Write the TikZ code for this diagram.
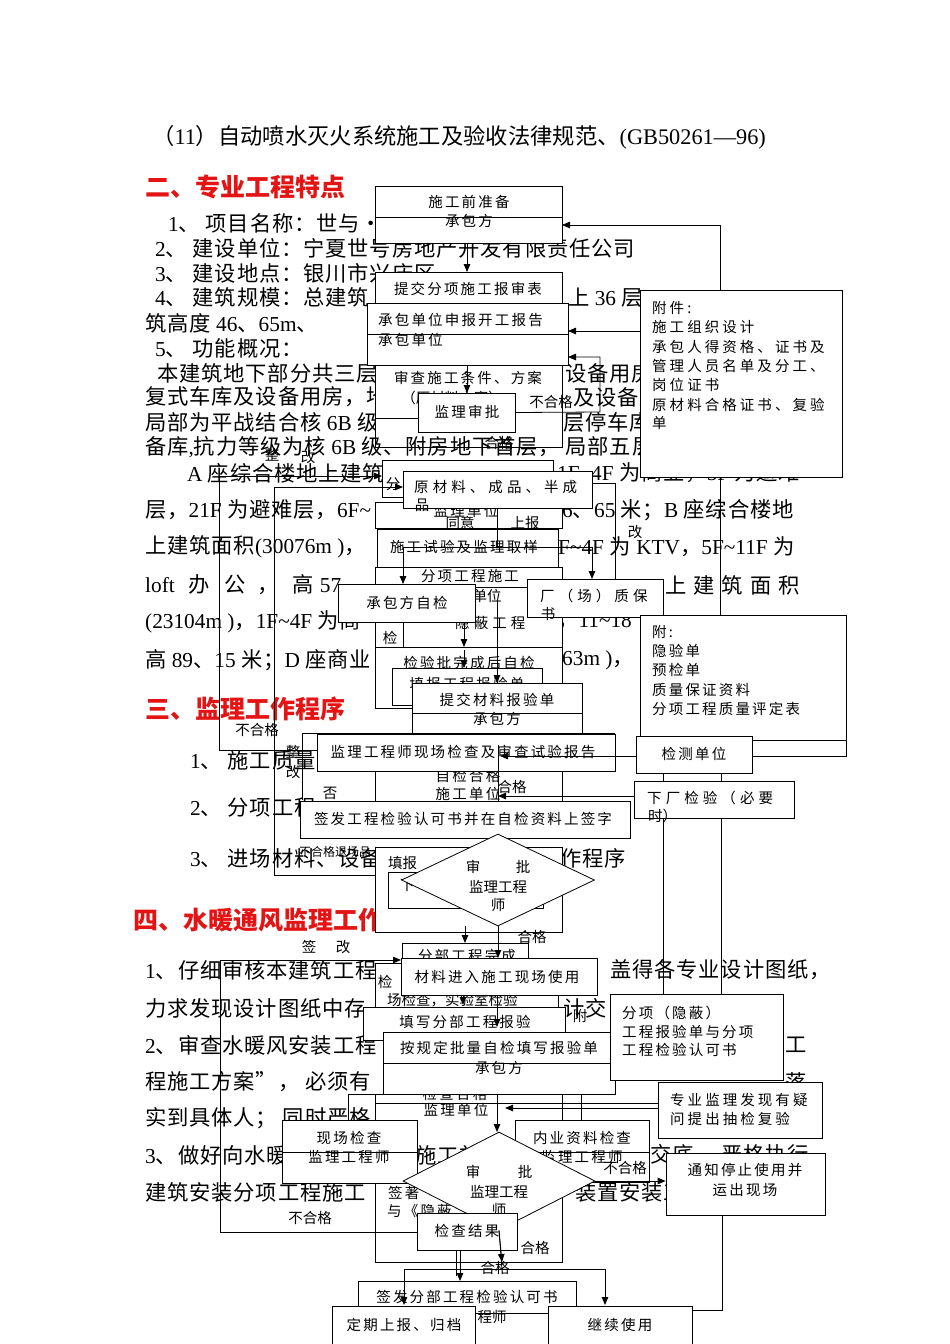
\documentclass[tikz,border=0pt]{standalone}
\usepackage{fontspec}
\setmainfont{Noto Sans CJK SC}
\newfontfamily\lat{Liberation Serif}
\newfontfamily\bxf{Noto Sans CJK SC}[LetterSpace=15]
\newfontfamily\bxm{Noto Sans CJK SC}[LetterSpace=21]
\newfontfamily\bxw{Noto Sans CJK SC}[LetterSpace=28]
\newfontfamily\bdy{Noto Sans CJK SC}[LetterSpace=4]
\usetikzlibrary{arrows.meta,fit,shapes.geometric}
\definecolor{hred}{RGB}{228,20,20}
\newcommand\tl{{\lat\char"7E}}
\begin{document}
\begin{tikzpicture}[x=1pt,y=-1pt,
 bt/.style={anchor=west,inner sep=0pt,font=\fontsize{21.3}{23}\selectfont\bdy},
 hd/.style={anchor=west,inner sep=0pt,text=hred,font=\fontsize{25}{27}\selectfont\bfseries},
 tt/.style={inner sep=0pt,font=\fontsize{14.5}{16}\selectfont\bxf},
 tm/.style={inner sep=0pt,anchor=west,font=\fontsize{14.5}{16}\selectfont\bxm},
 tw/.style={inner sep=0pt,font=\fontsize{14.5}{16}\selectfont\bxw},
 lb/.style={inner sep=0pt,font=\fontsize{14.5}{16}\selectfont},
 box/.style={draw,fill=white,line width=0.8pt,inner sep=0pt},
 ln/.style={line width=0.8pt},
 arr/.style={line width=0.8pt,-{Triangle[length=8pt,width=6.5pt]}}]
\useasboundingbox (0,0) rectangle (950,1344);
\fill[white] (0,0) rectangle (950,1344);

% ---------- body text ----------
\node[anchor=west,inner sep=0pt,font=\fontsize{22.3}{24}\selectfont] (t0) at (152,137) {（{\lat 11}）自动喷水灭火系统施工及验收法律规范、{\lat (GB50261—96)}};
\node[hd] (h1) at (145,187) {二、专业工程特点};
\node[bt] (t1) at (168,223) {{\lat 1}、\ 项目名称：世与·};
\node[bt] (t2) at (155,248) {{\lat 2}、\ 建设单位：宁夏世号房地产开发有限责任公司};
\node[bt] (t3) at (155,273) {{\lat 3}、\ 建设地点：银川市兴庆区};
\node[bt] (t4) at (155,297) {{\lat 4}、\ 建筑规模：总建筑};
\node[bt] (t4b) at (568,298) {上{\lat\ 36\ }层、};
\node[bt] (t5) at (145,323) {筑高度{\lat\ 46}、{\lat 65m}、};
\node[bt] (t6) at (155,348) {{\lat 5}、\ 功能概况：};
\node[bt] (t7) at (157,373) {本建筑地下部分共三层};
\node[bt] (t7b) at (565,373) {设备用房};
\node[bt] (t8) at (145,397) {复式车库及设备用房，地};
\node[bt] (t8b) at (573,397) {及设备用};
\node[bt] (t9) at (145,422) {局部为平战结合核{\lat\ 6B\ }级};
\node[bt] (t9b) at (563,422) {层停车库};
\node[bt] (t11) at (187,473) {{\lat A\ }座综合楼地上建筑};
\node[bt] (t11b) at (557,473) {{\lat 1F\tl 4F\ }为商业，{\lat 5F\ }为避难};
\node[bt] (t12) at (145,510) {层，{\lat 21F\ }为避难层，{\lat 6F\tl}};
\node[bt] (t12b) at (562,510) {{\lat 6}、{\lat 65\ }米；{\lat B\ }座综合楼地};
\node[bt] (t13) at (145,547) {上建筑面积{\lat (30076m\ )}，};
\node[bt] (t13b) at (558,547) {{\lat F\tl 4F\ }为\ {\lat KTV}，{\lat 5F\tl 11F\ }为};
\node[bt] (t14) at (145,585) {{\lat loft}\hspace{14pt}办\hspace{14pt}公\hspace{12pt}，\hspace{14pt}高\hspace{6pt}{\lat 57}};
\node[bt] (t14b) at (665,585) {上\hspace{7pt}建\hspace{7pt}筑\hspace{7pt}面\hspace{7pt}积};
\node[bt] (t15) at (145,622) {{\lat (23104m\ )}，{\lat 1F\tl 4F\ }为商};
\node[bt] (t15b) at (557,622) {，{\lat 11\tl 18}};
\node[bt] (t16) at (145,660) {高{\lat\ 89}、{\lat 15\ }米；{\lat D\ }座商业};
\node[bt] (t16b) at (562,660) {{\lat 63m\ )}，};
\node[hd] (h2) at (145,709) {三、监理工作程序};
\node[bt] (t17) at (190,760) {{\lat 1}、\ 施工质量};
\node[bt] (t18) at (190,808) {{\lat 2}、\ 分项工程};
\node[bt] (t19) at (190,858) {{\lat 3}、\ 进场材料、设备};
\node[bt] (t19b) at (560,858) {作程序};
\node[hd] (h3) at (133,920) {四、水暖通风监理工作程序};
\node[bt] (t20) at (145,970) {{\lat 1}、仔细审核本建筑工程};
\node[bt] (t20b) at (610,970) {盖得各专业设计图纸，};
\node[bt] (t21) at (145,1008) {力求发现设计图纸中存};
\node[bt] (t21b) at (563,1008) {计交};
\node[bt] (t22) at (145,1045) {{\lat 2}、审查水暖风安装工程};
\node[bt] (t22b) at (785,1045) {工};
\node[bt] (t23) at (145,1082) {程施工方案”，\ 必须有};
\node[bt] (t23b) at (785,1082) {落};
\node[bt] (t24) at (145,1118) {实到具体人；\ 同时严格};
\node[bt] (t25) at (145,1155) {{\lat 3}、做好向水暖};
\node[bt] (t25m) at (415,1155) {施工前};
\node[bt] (t25b) at (650,1155) {交底，\ 严格执行};
\node[bt] (t26) at (145,1192) {建筑安装分项工程施工};
\node[bt] (t26b) at (575,1192) {装置安装工};

% ---------- left loops ----------
\coordinate (la1) at (219,476); \coordinate (la2) at (219,750);
\coordinate (lb1) at (274,487); \coordinate (lb2) at (274,875);
\coordinate (lc1) at (220,960); \coordinate (lc2) at (220,1232);

% ---------- top flow ----------
\node[box,fit={(375,186)(562,243)}] (b1) {};
\draw[ln] (375,217) -- (562,217);
\node[tt] (b1t) at (469,202) {施工前准备};
\node[tt] (b1u) at (469,221) {承包方};

\node[box,fit={(375,272)(562,447)}] (r1) {};
\node[tt] (r1t) at (468,289) {提交分项施工报审表};
\node[tt] (r1u) at (468,378) {审查施工条件、方案};
\node[lb] (r1v) at (452,398) {（原材料方案）};
\draw[ln] (375,418) -- (418,418);
\node[bt] (t10) at (145,447) {备库{\lat ,}抗力等级为核{\lat\ 6B\ }级、附房地下首层，\ 局部五层};

\node[box,fit={(367,303)(568,365)}] (b3) {};
\draw[ln] (367,334) -- (568,334);
\node[tt,anchor=west] (b3t) at (378,320) {承包单位申报开工报告};
\node[tt,anchor=west] (b3u) at (378,340) {承包单位};

\node[box,fit={(418,393)(515,432)}] (b4) {};
\node[tt] (b4t) at (467,412) {监理审批};
\draw[arr] (467,243) -- (467,272);
\draw[arr] (467,365) -- (467,393);
\draw[arr] (b4.east) -- (600,412) -- (600,357) -- (568,357);
\node[lb] (ng1) at (551,402) {不合格};
\node[lb] (hg1) at (499,443) {合格};
\node[lb] (zg1) at (272,455) {整};
\node[lb] (zg2) at (308,457) {改};

% right side attachments
\node[box,fit={(640,290)(842,477)}] (fj) {};
\node[tm] at (652,308) {附件:};
\node[tm] at (652,327) {施工组织设计};
\node[tm] at (652,347) {承包人得资格、证书及};
\node[tm] at (652,366) {管理人员名单及分工、};
\node[tm] at (652,385) {岗位证书};
\node[tm] at (652,405) {原材料合格证书、复验};
\node[tm] at (652,423) {单};
\draw[arr] (720,290) -- (720,225) -- (562,225);
\draw[arr] (fj.west |- 0,331) -- (568,331);
\draw[ln] (720,477) -- (720,615);
\draw[ln] (592,483) -- (615,483) -- (615,580);

% second column
\node[box,fit={(382,460)(553,497)}] (b5) {};
\node[tt] (b5t) at (393,484) {分};
\node[box,fit={(375,502)(562,528)}] (b6) {};
\node[tt] (b6t) at (466,511) {监理单位};
\node[lb] (ty) at (460,523) {同意};
\node[lb] (sb) at (525,523) {上报};
\node[box,fit={(403,471)(592,508)}] (b7) {};
\node[tw,anchor=west] (b7t) at (414,487) {原材料、成品、半成};
\node[lb] (b7u) at (422,505) {品};
\draw[arr] (la2) -- (la1) -- (382,476);
\draw[arr] (lb2) -- (lb1) -- (403,487);
\draw[ln] (la2) -- (317,750);
\draw[ln] (lb2) -- (375,875);
\node[lb] (gz) at (635,532) {改};

\node[box,fit={(377,529)(558,567)}] (b8) {};
\node[tt] (b8t) at (464,547) {施工试验及监理取样};
\node[box,fit={(375,567)(562,647)}] (b9) {};
\node[tt] (b9t) at (470,576) {分项工程施工};
\node[lb] (b9u) at (487,596) {单位};
\draw[ln] (475,587) -- (527,587);
\node[tw,anchor=west] (b9v) at (455,623) {隐蔽工程};
\node[lb] (b9w) at (390,638) {检};
\draw[ln] (403,605) -- (403,647);
\draw[ln] (497,508) -- (497,547);
\draw[ln] (403,547) -- (592,547);
\draw[arr] (403,547) -- (403,584);
\draw[arr] (592,547) -- (592,579);

\node[box,fit={(338,584)(475,622)}] (b10) {};
\node[tt] (b10t) at (407,603) {承包方自检};
\node[box,fit={(527,579)(663,617)}] (b11) {};
\node[tw,anchor=west] (b11t) at (540,596) {厂（场）质保};
\node[lb] (b11u) at (548,614) {书};

\node[box,fit={(640,615)(846,740)}] (fj2) {};
\node[tt,anchor=west] at (652,632) {附:};
\node[tt,anchor=west] at (652,651) {隐验单};
\node[tt,anchor=west] at (652,670) {预检单};
\node[tt,anchor=west] at (652,690) {质量保证资料};
\node[tt,anchor=west] at (652,709) {分项工程质量评定表};

\node[box,fit={(375,647)(562,708)}] (b12) {};
\node[tt] (b12t) at (469,663) {检验批完成后自检};
\node[box,fit={(392,668)(542,705)}] (b13) {};
\node[tt] (b13t) at (467,684) {填报工程报验单};
\draw[arr] (464,622) -- (464,647);
\draw[arr] (464,650) -- (464,668);
\draw[arr] (497,600) -- (497,683);
\node[box,fit={(412,683)(582,745)}] (b14) {};
\draw[ln] (412,713) -- (582,713);
\node[tt] (b14t) at (497,700) {提交材料报验单};
\node[tt] (b14u) at (497,719) {承包方};

\draw[ln] (615,733) -- (302,733) -- (302,800);
\draw[ln] (375,771) -- (375,801);
\draw[ln] (562,771) -- (562,801);
\node[tt] (zj1) at (468,776) {自检合格};
\node[tt] (zj2) at (468,794) {施工单位};
\node[lb] (hg2) at (512,787) {合格};
\node[box,fit={(317,734)(615,771)}] (b15) {};
\node[tt] (b15t) at (463,752) {监理工程师现场检查及审查试验报告};
\node[lb] (ng2) at (257,730) {不合格};
\node[lb] (zg3) at (293,752) {整};
\node[lb] (zg4) at (293,772) {改};
\node[lb] (fo) at (330,793) {否};

\node[box,fit={(636,736)(752,773)}] (jc) {};
\node[tt] (jct) at (694,754) {检测单位};
\node[box,fit={(634,781)(794,818)}] (xc) {};
\node[tw,anchor=west] (xct) at (647,798) {下厂检验（必要};
\node[lb,anchor=west] (xcu) at (648,816) {时）};
\draw[arr] (jc.west |- 0,756) -- (500,756);
\draw[arr] (xc.west |- 0,796) -- (498,796);
\draw[ln] (752,756) -- (846,756) -- (846,740);
\draw[ln] (663,773) -- (663,781);
\draw[ln] (721,773) -- (721,781);
\draw[ln] (663,818) -- (663,994);
\draw[ln] (721,818) -- (721,994);
\draw[arr] (498,745) -- (498,823);

\node[box,fit={(300,801)(630,838)}] (b16) {};
\node[tt] (b16t) at (463,819) {签发工程检验认可书并在自检资料上签字};

\node[box,fit={(375,847)(562,932)}] (b17) {};
\node[lb,anchor=west] (b17t) at (388,863) {填报};
\node[box,fit={(388,872)(543,908)}] (b18) {};
\node[lb,anchor=west] (b18t) at (400,886) {下一};
\node[box,diamond,minimum width=193pt,minimum height=92pt] (d1) at (498,880) {};
\node[lb] at (473,867) {审};
\node[lb] at (523,867) {批};
\node[lb] at (498,887) {监理工程};
\node[lb] at (498,905) {师};
\node[lb,font=\fontsize{12}{13}\selectfont] (bh) at (335,852) {不合格退场品};

\node[box,fit={(402,943)(528,980)}] (b19) {};
\node[tt] (b19t) at (467,956) {分部工程完成};
\draw[arr] (465,926) -- (465,943);
\node[lb] (qg1) at (309,947) {签};
\node[lb] (qg2) at (343,947) {改};
\draw[ln] (lc2) -- (lc1);
\draw[arr] (lc1) -- (401,960);
\draw[ln] (lc2) -- (417,1232);

\node[box,fit={(375,963)(558,1010)}] (b20) {};
\node[lb] (b20t) at (385,982) {检};
\node[lb,anchor=west] (b20u) at (387,1000) {场检查，实验室检验};
\node[box,fit={(401,958)(597,995)}] (b21) {};
\node[tt] (b21t) at (497,977) {材料进入施工现场使用};
\draw[arr] (d1.south) -- (498,958);
\node[lb] (hg3) at (532,937) {合格};

\node[box,fit={(363,1007)(565,1040)}] (b22) {};
\node[tt] (b22t) at (465,1022) {填写分部工程报验};
\draw[arr] (463,995) -- (463,1005);
\draw[arr] (497,995) -- (497,1027);
\node[lb] (fu) at (580,1016) {附};

\draw[ln] (375,1094) rectangle (562,1262);
\draw[ln] (348,1120) -- (348,1094) -- (383,1094);
\draw[ln] (581,1094) -- (581,1120);
\node[tt] (jh1) at (455,1094) {检查合格};
\node[tt] (jh2) at (456,1110) {监理单位};

\node[box,fit={(383,1032)(615,1094)}] (b23) {};
\draw[ln] (383,1063) -- (615,1063);
\node[tt] (b23t) at (499,1048) {按规定批量自检填写报验单};
\node[tt] (b23u) at (499,1068) {承包方};

\node[box,fit={(610,994)(783,1080)}] (fx) {};
\node[tt,anchor=west] at (622,1013) {分项（隐蔽）};
\node[tt,anchor=west] at (622,1032) {工程报验单与分项};
\node[tt,anchor=west] at (622,1050) {工程检验认可书};
\node[box,fit={(658,1082)(822,1138)}] (zy) {};
\node[tm] at (670,1100) {专业监理发现有疑};
\node[tm] at (670,1119) {问提出抽检复验};
\draw[ln] (zy.west |- 0,1103) -- (375,1103);
\draw[arr] (zy.west |- 0,1108) -- (505,1108);

\node[box,fit={(282,1120)(417,1183)}] (xj) {};
\draw[ln] (282,1152) -- (417,1152);
\node[tt] at (349,1138) {现场检查};
\node[tt] at (349,1157) {监理工程师};
\node[box,fit={(515,1120)(649,1182)}] (ny) {};
\draw[ln] (515,1152) -- (649,1152);
\node[tt] at (582,1138) {内业资料检查};
\node[tt] at (582,1157) {监理工程师};
\draw[arr] (497,1094) -- (497,1132);

\node[tt,anchor=west] (qz1) at (388,1193) {签著};
\node[tt,anchor=west] (qz2) at (387,1211) {与《隐蔽};
\node[box,diamond,minimum width=192pt,minimum height=98pt] (d2) at (499,1181) {};
\node[lb] at (473,1172) {审};
\node[lb] at (525,1172) {批};
\node[lb] at (499,1192) {监理工程};
\node[lb] at (499,1210) {师};

\node[box,fit={(666,1153)(825,1215)}] (tz) {};
\node[tt] at (745,1170) {通知停止使用并};
\node[tt] at (745,1190) {运出现场};
\draw[arr] (d2.east) -- (tz.west |- d2.east);
\node[lb] (ng3) at (625,1168) {不合格};
\node[lb] (ng4) at (310,1218) {不合格};

\node[box,fit={(417,1213)(517,1250)}] (jg) {};
\node[tt] at (467,1231) {检查结果};
\node[lb] (hg4) at (535,1248) {合格};
\node[lb] (hg5) at (495,1268) {合格};

\node[box,fit={(358,1281)(576,1313)}] (qf) {};
\node[tt] at (467,1297) {签发分部工程检验认可书};
\node[lb] (cs) at (492,1317) {程师};
\draw[arr] (460,1250) -- (460,1281);
\draw[ln] (456,1250) -- (456,1276);
\draw[ln] (d2.south) -- (502,1269);
\draw[arr] (d2.south) -- (502,1262);
\draw[ln] (404,1269) -- (605,1269);
\draw[arr] (404,1269) -- (404,1305);
\draw[arr] (605,1269) -- (605,1305);

\node[box,fit={(332,1306)(475,1344)}] (gd) {};
\node[tt] at (404,1325) {定期上报、归档};
\node[box,fit={(548,1306)(692,1344)}] (jx) {};
\node[tt] at (620,1325) {继续使用};
\draw[ln] (667,1215) -- (722,1215) -- (722,1310) -- (jx.east |- 0,1310);
\end{tikzpicture}
\end{document}
